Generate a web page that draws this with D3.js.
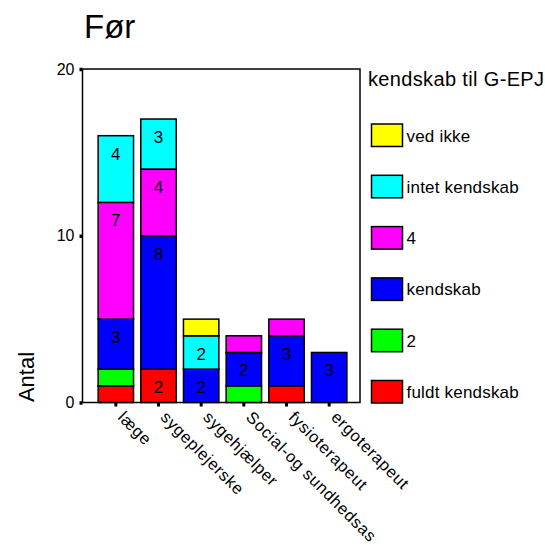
<!DOCTYPE html>
<html>
<head>
<meta charset="utf-8">
<script src="https://cdn.jsdelivr.net/npm/d3@7"></script>
<style>
  html, body { margin: 0; padding: 0; background: #fff; }
  svg { display: block; font-family: "Liberation Sans", Arial, sans-serif; }
</style>
</head>
<body>
<svg id="chart" width="545" height="545"></svg>
<script>
// Professions on the x axis
const categories = ["læge", "sygeplejerske", "sygehjælper", "Social-og sundhedsas", "fysioterapeut", "ergoterapeut"];

// Stack order, bottom to top
const seriesKeys = ["fuldt kendskab", "2", "kendskab", "4", "intet kendskab", "ved ikke"];
const seriesColors = ["#ff0000", "#00ff00", "#0000ff", "#ff00ff", "#00ffff", "#ffff00"];

// Counts per profession for each answer
const fuldtKendskab = [1, 2, 0, 0, 1, 0];
const svar2        = [1, 0, 0, 1, 0, 0];
const kendskab     = [3, 8, 2, 2, 3, 3];
const svar4        = [7, 4, 0, 1, 1, 0];
const intetKendskab = [4, 3, 2, 0, 0, 0];
const vedIkke      = [0, 0, 1, 0, 0, 0];

const yTicks = [0, 10, 20];

const seriesValues = [fuldtKendskab, svar2, kendskab, svar4, intetKendskab, vedIkke];
const rows = categories.map((c, i) => {
  const r = { cat: c };
  seriesKeys.forEach((k, j) => { r[k] = seriesValues[j][i]; });
  return r;
});

const svg = d3.select("#chart");
const frame = { left: 82.5, right: 360, top: 69, bottom: 402.5 };

const x = d3.scaleBand()
  .domain(categories)
  .range([94.5, 350.5])
  .paddingInner(0.17)
  .paddingOuter(0.085);

const y = d3.scaleLinear().domain([0, 20]).range([frame.bottom, frame.top]);

const color = d3.scaleOrdinal().domain(seriesKeys).range(seriesColors);

// Title
svg.append("text")
  .attr("x", 84).attr("y", 38)
  .attr("font-size", 33)
  .text("Før");

// Plot frame
svg.append("rect")
  .attr("x", frame.left).attr("y", frame.top)
  .attr("width", frame.right - frame.left)
  .attr("height", frame.bottom - frame.top)
  .attr("fill", "none").attr("stroke", "#000").attr("stroke-width", 1.5);

// Y axis
const yAxis = svg.append("g")
  .attr("transform", `translate(${frame.left},0)`)
  .call(d3.axisLeft(y).tickValues(yTicks).tickSize(3).tickPadding(5));
yAxis.select(".domain").remove();
yAxis.selectAll(".tick line").attr("stroke-width", 3.5);
yAxis.selectAll(".tick text").attr("font-size", 16).attr("fill", "#000")
  .attr("font-family", "Liberation Sans, Arial, sans-serif");

// X axis
const xAxis = svg.append("g")
  .attr("transform", `translate(0,${frame.bottom})`)
  .call(d3.axisBottom(x).tickSize(4).tickPadding(0));
xAxis.select(".domain").remove();
xAxis.selectAll(".tick line").attr("stroke-width", 3);
xAxis.selectAll(".tick text")
  .attr("font-size", 16.5).attr("fill", "#000")
  .attr("font-family", "Liberation Sans, Arial, sans-serif")
  .attr("letter-spacing", 0.7)
  .attr("text-anchor", "start")
  .attr("dy", null)
  .attr("transform", "translate(4,13) rotate(45)");

// Stacked bars
const stacked = d3.stack().keys(seriesKeys)(rows);

const layers = svg.append("g").selectAll("g")
  .data(stacked)
  .join("g")
  .attr("fill", d => color(d.key));

layers.selectAll("rect")
  .data(d => d.filter(s => s[1] > s[0]))
  .join("rect")
  .attr("x", d => x(d.data.cat))
  .attr("y", d => y(d[1]))
  .attr("width", x.bandwidth())
  .attr("height", d => y(d[0]) - y(d[1]))
  .attr("stroke", "#000")
  .attr("stroke-width", 1.5);

// Segment value labels
layers.selectAll("text")
  .data(d => d.filter(s => s[1] - s[0] >= 2))
  .join("text")
  .attr("x", d => x(d.data.cat) + x.bandwidth() / 2)
  .attr("y", d => y(d[1]) + 24)
  .attr("text-anchor", "middle")
  .attr("font-size", 17)
  .attr("fill", "#000")
  .text(d => d[1] - d[0]);

// Y axis title
svg.append("text")
  .attr("transform", "translate(34,377) rotate(-90)")
  .attr("text-anchor", "middle")
  .attr("font-size", 22)
  .text("Antal");

// Legend
const legend = svg.append("g");
legend.append("text")
  .attr("x", 368).attr("y", 86)
  .attr("font-size", 20)
  .attr("letter-spacing", 0.35)
  .text("kendskab til G-EPJ");

const legendOrder = seriesKeys.slice().reverse();
const items = legend.selectAll("g.item")
  .data(legendOrder)
  .join("g")
  .attr("class", "item")
  .attr("transform", (d, i) => `translate(371.5,${124 + i * 51.3})`);

items.append("rect")
  .attr("width", 31).attr("height", 22.5)
  .attr("fill", d => color(d))
  .attr("stroke", "#000").attr("stroke-width", 1.5);

items.append("text")
  .attr("x", 35).attr("y", 17.5)
  .attr("font-size", 17)
  .attr("letter-spacing", 0.2)
  .text(d => d);
</script>
</body>
</html>
